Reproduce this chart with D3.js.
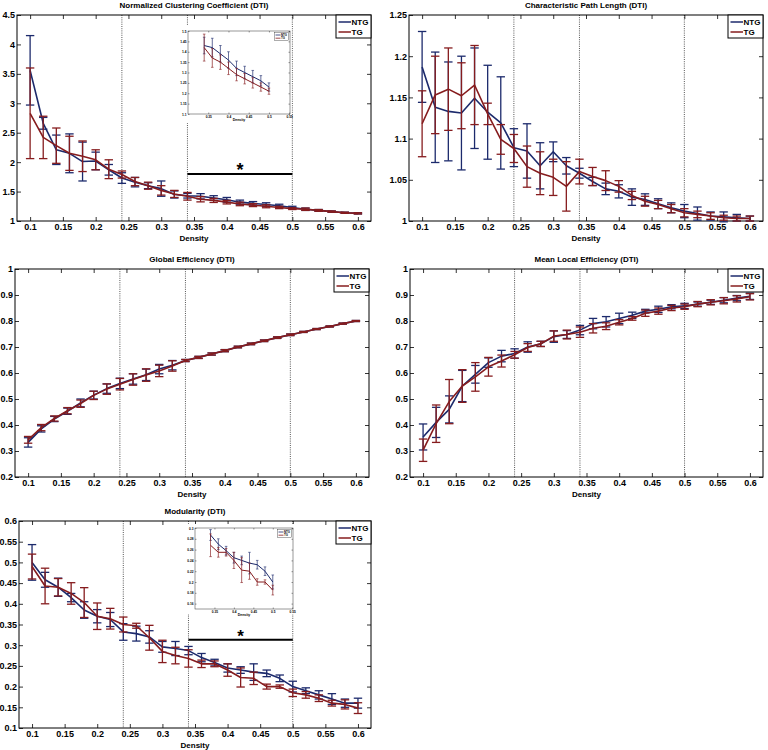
<!DOCTYPE html>
<html><head><meta charset="utf-8">
<script src="https://cdn.jsdelivr.net/npm/d3@7"></script>
<style>
body{margin:0;background:#fff}
svg{display:block}
text{font-family:"Liberation Sans",Arial,Helvetica,sans-serif;font-weight:bold;fill:#000}
</style>
</head><body>
<svg id="chart" width="768" height="750"></svg>
<script>
// ---------------- DATA ----------------
const density = [0.10,0.12,0.14,0.16,0.18,0.20,0.22,0.24,0.26,0.28,0.30,0.32,0.34,0.36,0.38,0.40,0.42,0.44,0.46,0.48,0.50,0.52,0.54,0.56,0.58,0.60];

const seriesNames = ["NTG","TG"];

// Normalized Clustering Coefficient
const nccNTG    = [3.56,2.66,2.21,2.15,2.01,2.02,1.87,1.73,1.66,1.60,1.55,1.45,1.43,1.42,1.39,1.36,1.32,1.30,1.28,1.26,1.23,1.20,1.18,1.16,1.14,1.13];
const nccNTGerr = [0.59,0.10,0.25,0.33,0.33,0.15,0.09,0.09,0.08,0.05,0.13,0.06,0.04,0.045,0.04,0.04,0.035,0.03,0.03,0.025,0.02,0.02,0.015,0.01,0.01,0.01];
const nccTG     = [2.83,2.42,2.28,2.15,2.10,2.04,1.88,1.79,1.67,1.60,1.52,1.46,1.42,1.37,1.35,1.32,1.29,1.27,1.25,1.23,1.21,1.20,1.18,1.16,1.14,1.13];
const nccTGerr  = [0.77,0.36,0.30,0.29,0.26,0.17,0.16,0.06,0.07,0.06,0.08,0.06,0.065,0.045,0.035,0.03,0.03,0.025,0.025,0.02,0.015,0.02,0.015,0.01,0.01,0.01];

// Characteristic Path Length
const cplNTG    = [1.187,1.138,1.133,1.131,1.149,1.132,1.119,1.089,1.085,1.067,1.084,1.067,1.058,1.048,1.039,1.036,1.029,1.026,1.021,1.016,1.012,1.009,1.006,1.005,1.004,1.003];
const cplNTGerr = [0.043,0.067,0.060,0.069,0.061,0.057,0.056,0.023,0.033,0.028,0.012,0.010,0.006,0.005,0.007,0.008,0.010,0.007,0.006,0.006,0.008,0.008,0.005,0.006,0.004,0.003];
const cplTG     = [1.118,1.153,1.160,1.152,1.165,1.130,1.099,1.088,1.066,1.058,1.053,1.042,1.060,1.054,1.049,1.042,1.031,1.024,1.020,1.015,1.010,1.008,1.006,1.004,1.003,1.003];
const cplTGerr  = [0.040,0.047,0.050,0.040,0.048,0.013,0.018,0.017,0.025,0.026,0.022,0.030,0.015,0.011,0.012,0.007,0.005,0.006,0.005,0.005,0.005,0.004,0.004,0.003,0.003,0.003];

// Global Efficiency
const geNTG     = [0.333,0.385,0.423,0.453,0.485,0.515,0.540,0.560,0.577,0.593,0.615,0.630,0.648,0.660,0.673,0.686,0.700,0.712,0.724,0.736,0.747,0.758,0.769,0.779,0.790,0.800];
const geNTGerr  = [0.018,0.012,0.010,0.012,0.015,0.015,0.018,0.020,0.020,0.022,0.018,0.018,0.004,0.004,0.004,0.004,0.003,0.003,0.003,0.003,0.003,0.002,0.002,0.002,0.002,0.002];
const geTG      = [0.343,0.390,0.425,0.455,0.482,0.514,0.538,0.557,0.575,0.592,0.608,0.627,0.648,0.660,0.673,0.686,0.700,0.712,0.724,0.736,0.747,0.758,0.769,0.779,0.790,0.800];
const geTGerr   = [0.013,0.012,0.010,0.012,0.014,0.016,0.020,0.022,0.022,0.024,0.022,0.020,0.004,0.004,0.004,0.004,0.003,0.003,0.003,0.003,0.003,0.002,0.002,0.002,0.002,0.002];

// Mean Local Efficiency
const mleNTG    = [0.354,0.410,0.460,0.550,0.595,0.640,0.665,0.675,0.700,0.712,0.740,0.748,0.765,0.790,0.797,0.810,0.822,0.838,0.845,0.855,0.858,0.865,0.872,0.880,0.888,0.895];
const mleNTGerr = [0.050,0.058,0.052,0.060,0.034,0.018,0.022,0.018,0.020,0.010,0.022,0.015,0.018,0.020,0.020,0.020,0.012,0.007,0.012,0.008,0.010,0.008,0.008,0.010,0.010,0.012];
const mleTG     = [0.303,0.405,0.490,0.550,0.585,0.624,0.646,0.670,0.698,0.712,0.742,0.748,0.757,0.772,0.780,0.795,0.810,0.830,0.838,0.850,0.855,0.865,0.872,0.878,0.885,0.893];
const mleTGerr  = [0.043,0.072,0.085,0.063,0.055,0.036,0.023,0.013,0.015,0.010,0.020,0.017,0.020,0.018,0.013,0.010,0.007,0.012,0.012,0.010,0.010,0.010,0.010,0.012,0.012,0.012];

// Modularity
const modNTG    = [0.500,0.458,0.440,0.415,0.385,0.370,0.362,0.332,0.328,0.320,0.296,0.292,0.287,0.270,0.258,0.245,0.240,0.235,0.232,0.220,0.200,0.190,0.180,0.170,0.160,0.160];
const modNTGerr = [0.043,0.018,0.022,0.010,0.020,0.016,0.017,0.020,0.018,0.015,0.013,0.017,0.010,0.010,0.008,0.010,0.008,0.020,0.008,0.008,0.013,0.007,0.010,0.013,0.010,0.012];
const modTG     = [0.490,0.443,0.440,0.425,0.403,0.370,0.364,0.350,0.347,0.318,0.285,0.275,0.268,0.255,0.255,0.240,0.222,0.220,0.200,0.200,0.185,0.180,0.172,0.160,0.157,0.148];
const modTGerr  = [0.030,0.043,0.021,0.026,0.036,0.032,0.025,0.018,0.006,0.030,0.027,0.020,0.021,0.009,0.007,0.015,0.023,0.015,0.006,0.004,0.009,0.008,0.008,0.007,0.011,0.013];

// Axes ticks
const xTickValues = [0.1,0.15,0.2,0.25,0.3,0.35,0.4,0.45,0.5,0.55,0.6];
const xTickLabels = ["0.1","0.15","0.2","0.25","0.3","0.35","0.4","0.45","0.5","0.55","0.6"];
const nccYTicks = [1,1.5,2,2.5,3,3.5,4,4.5];
const nccYLabels = ["1","1.5","2","2.5","3","3.5","4","4.5"];
const cplYTicks = [1,1.05,1.1,1.15,1.2,1.25];
const cplYLabels = ["1","1.05","1.1","1.15","1.2","1.25"];
const effYTicks = [0.2,0.3,0.4,0.5,0.6,0.7,0.8,0.9,1];
const effYLabels = ["0.2","0.3","0.4","0.5","0.6","0.7","0.8","0.9","1"];
const modYTicks = [0.1,0.15,0.2,0.25,0.3,0.35,0.4,0.45,0.5,0.55,0.6];
const modYLabels = ["0.1","0.15","0.2","0.25","0.3","0.35","0.4","0.45","0.5","0.55","0.6"];

// inset ticks
const insetXTicks = [0.35,0.4,0.45,0.5,0.55];
const insetXLabels = ["0.35","0.4","0.45","0.5","0.55"];
const nccInsetYTicks = [1.1,1.15,1.2,1.25,1.3,1.35,1.4,1.45,1.5];
const nccInsetYLabels = ["1.1","1.15","1.2","1.25","1.3","1.35","1.4","1.45","1.5"];
const modInsetYTicks = [0.16,0.18,0.2,0.22,0.24,0.26,0.28,0.3];
const modInsetYLabels = ["0.16","0.18","0.2","0.22","0.24","0.26","0.28","0.3"];

const refDensities = [0.24,0.34,0.5];
const sigRange = [0.34,0.5];
const nccSigLevel = 1.8;
const modSigLevel = 0.313;

const titles = ["Normalized Clustering Coefficient (DTI)","Characteristic Path Length (DTI)","Global Efficiency (DTI)","Mean Local Efficiency (DTI)","Modularity (DTI)"];
const xLabel = "Density";

// ---------------- STYLE ----------------
const colors = ["#1c2a6c","#861c1e"];
const svg = d3.select("#chart");
svg.append("rect").attr("width",768).attr("height",750).attr("fill","#fff");

function drawPanel(p){
  const g = svg.append("g");
  const x = d3.scaleLinear().domain([0.08,0.62]).range([p.left,p.right]);
  const y = d3.scaleLinear().domain(p.yDomain).range([p.bottom,p.top]);

  // reference dotted lines
  g.selectAll(".ref").data(refDensities).enter().append("line")
    .attr("x1",d=>x(d)).attr("x2",d=>x(d)).attr("y1",p.top).attr("y2",p.bottom)
    .attr("stroke","#555").attr("stroke-width",1).attr("stroke-dasharray","1,1.2");

  // axes (ticks inward on all sides)
  const ax = g.append("g").attr("transform",`translate(0,${p.bottom})`)
    .call(d3.axisBottom(x).tickValues(xTickValues).tickFormat((d,i)=>xTickLabels[i]).tickSizeInner(-4).tickSizeOuter(0).tickPadding(3));
  const axT = g.append("g").attr("transform",`translate(0,${p.top})`)
    .call(d3.axisTop(x).tickValues(xTickValues).tickFormat("").tickSizeInner(-4).tickSizeOuter(0));
  const ay = g.append("g").attr("transform",`translate(${p.left},0)`)
    .call(d3.axisLeft(y).tickValues(p.yTicks).tickFormat((d,i)=>p.yLabels[i]).tickSizeInner(-4).tickSizeOuter(0).tickPadding(2));
  const ayR = g.append("g").attr("transform",`translate(${p.right},0)`)
    .call(d3.axisRight(y).tickValues(p.yTicks).tickFormat("").tickSizeInner(-4).tickSizeOuter(0));
  [ax,axT,ay,ayR].forEach(a=>{
    a.select(".domain").remove();
    a.selectAll("line").attr("stroke","#000").attr("stroke-width",0.8);
    a.selectAll("text").attr("font-size",9).attr("font-weight","bold")
      .attr("font-family",'"Liberation Sans",Arial,sans-serif').attr("fill","#000");
  });
  g.append("rect").attr("x",p.left).attr("y",p.top).attr("width",p.right-p.left).attr("height",p.bottom-p.top)
    .attr("fill","none").attr("stroke","#000").attr("stroke-width",1);

  // title & x label
  g.append("text").attr("x",(p.left+p.right)/2).attr("y",p.top-7).attr("text-anchor","middle").attr("font-size",8).text(p.title);
  g.append("text").attr("x",(p.left+p.right)/2).attr("y",p.bottom+19.5).attr("text-anchor","middle").attr("font-size",8).text(xLabel);

  // series
  const series = [{m:p.ntg,e:p.ntgErr},{m:p.tg,e:p.tgErr}];
  series.forEach((s,k)=>{
    const sg = g.append("g");
    const pts = density.map((d,i)=>({x:d,m:s.m[i],e:s.e[i]}));
    sg.selectAll(".eb").data(pts).enter().append("line")
      .attr("x1",d=>x(d.x)).attr("x2",d=>x(d.x)).attr("y1",d=>y(d.m-d.e)).attr("y2",d=>y(d.m+d.e))
      .attr("stroke",colors[k]).attr("stroke-width",1.3);
    [-1,1].forEach(sgn=>{
      sg.selectAll(".cap"+sgn).data(pts).enter().append("line")
        .attr("x1",d=>x(d.x)-4.2).attr("x2",d=>x(d.x)+4.2)
        .attr("y1",d=>y(d.m+sgn*d.e)).attr("y2",d=>y(d.m+sgn*d.e))
        .attr("stroke",colors[k]).attr("stroke-width",1.3);
    });
    sg.append("path").datum(pts).attr("fill","none").attr("stroke",colors[k]).attr("stroke-width",1.6)
      .attr("stroke-linejoin","round")
      .attr("d",d3.line().x(d=>x(d.x)).y(d=>y(d.m)));
  });

  // significance bar
  if (p.sig !== undefined){
    g.append("line").attr("x1",x(sigRange[0])).attr("x2",x(sigRange[1])).attr("y1",y(p.sig)).attr("y2",y(p.sig))
      .attr("stroke","#000").attr("stroke-width",2);
    g.append("text").attr("x",x((sigRange[0]+sigRange[1])/2)).attr("y",y(p.sig)+p.starDy).attr("text-anchor","middle")
      .attr("font-size",p.starSize).text("*");
  }

  // legend
  const lw=35, lh=23, lx=p.right-lw, ly=p.top;
  const lg = g.append("g");
  lg.append("rect").attr("x",lx).attr("y",ly).attr("width",lw).attr("height",lh).attr("fill","#fff").attr("stroke","#000").attr("stroke-width",1);
  seriesNames.forEach((n,i)=>{
    const ry = ly+7+i*10;
    lg.append("line").attr("x1",lx+2.5).attr("x2",lx+15).attr("y1",ry).attr("y2",ry).attr("stroke",colors[i]).attr("stroke-width",1.5);
    lg.append("text").attr("x",lx+15.5).attr("y",ry+3).attr("font-size",8).text(n);
  });

  if (p.inset) drawInset(p.inset, p);
}

function drawInset(c, p){
  const g = svg.append("g");
  g.append("rect").attr("x",c.bg[0]).attr("y",c.bg[1]).attr("width",c.bg[2]-c.bg[0]).attr("height",c.bg[3]-c.bg[1]).attr("fill","#fff");
  const x = d3.scaleLinear().domain([0.3,0.552]).range([c.left,c.right]);
  const y = d3.scaleLinear().domain(c.yDomain).range([c.bottom,c.top]);
  const clipId = "clip"+Math.round(c.top);
  g.append("clipPath").attr("id",clipId).append("rect").attr("x",c.left).attr("y",c.top).attr("width",c.right-c.left).attr("height",c.bottom-c.top);

  const ax = g.append("g").attr("transform",`translate(0,${c.bottom})`)
    .call(d3.axisBottom(x).tickValues(insetXTicks).tickFormat((d,i)=>insetXLabels[i]).tickSizeInner(-1.5).tickSizeOuter(0).tickPadding(1.5));
  const axT = g.append("g").attr("transform",`translate(0,${c.top})`)
    .call(d3.axisTop(x).tickValues(insetXTicks).tickFormat("").tickSizeInner(-1.5).tickSizeOuter(0));
  const ay = g.append("g").attr("transform",`translate(${c.left},0)`)
    .call(d3.axisLeft(y).tickValues(c.yTicks).tickFormat((d,i)=>c.yLabels[i]).tickSizeInner(-1.5).tickSizeOuter(0).tickPadding(1.5));
  const ayR = g.append("g").attr("transform",`translate(${c.right},0)`)
    .call(d3.axisRight(y).tickValues(c.yTicks).tickFormat("").tickSizeInner(-1.5).tickSizeOuter(0));
  [ax,axT,ay,ayR].forEach(a=>{
    a.select(".domain").remove();
    a.selectAll("line").attr("stroke","#000").attr("stroke-width",0.4);
    a.selectAll("text").attr("font-size",3.2).attr("font-weight","bold")
      .attr("font-family",'"Liberation Sans",Arial,sans-serif').attr("fill","#333");
  });
  g.append("rect").attr("x",c.left).attr("y",c.top).attr("width",c.right-c.left).attr("height",c.bottom-c.top)
    .attr("fill","none").attr("stroke","#333").attr("stroke-width",0.5);
  g.append("text").attr("x",(c.left+c.right)/2).attr("y",c.bottom+7).attr("text-anchor","middle").attr("font-size",3.5).attr("fill","#333").text(xLabel);

  const dg = g.append("g").attr("clip-path",`url(#${clipId})`);
  const series = [{m:p.ntg,e:p.ntgErr},{m:p.tg,e:p.tgErr}];
  series.forEach((s,k)=>{
    const pts = density.map((d,i)=>({x:d,m:s.m[i],e:s.e[i]})).filter(d=>d.x>=0.339 && d.x<=0.501);
    dg.selectAll(".ieb"+k).data(pts).enter().append("line")
      .attr("x1",d=>x(d.x)).attr("x2",d=>x(d.x)).attr("y1",d=>y(d.m-d.e)).attr("y2",d=>y(d.m+d.e))
      .attr("stroke",colors[k]).attr("stroke-width",0.8).attr("opacity",0.85);
    [-1,1].forEach(sgn=>{
      dg.selectAll(".icap"+k+sgn).data(pts).enter().append("line")
        .attr("x1",d=>x(d.x)-1.3).attr("x2",d=>x(d.x)+1.3)
        .attr("y1",d=>y(d.m+sgn*d.e)).attr("y2",d=>y(d.m+sgn*d.e))
        .attr("stroke",colors[k]).attr("stroke-width",0.6);
    });
    dg.append("path").datum(pts).attr("fill","none").attr("stroke",colors[k]).attr("stroke-width",1)
      .attr("d",d3.line().x(d=>x(d.x)).y(d=>y(d.m)));
  });

  // inset legend
  const lw=14, lh=8, lx=c.right-lw-1.5, ly=c.top+1.5;
  g.append("rect").attr("x",lx).attr("y",ly).attr("width",lw).attr("height",lh).attr("fill","#fff").attr("stroke","#333").attr("stroke-width",0.4);
  seriesNames.forEach((n,i)=>{
    const ry = ly+2.5+i*3.2;
    g.append("line").attr("x1",lx+1).attr("x2",lx+6).attr("y1",ry).attr("y2",ry).attr("stroke",colors[i]).attr("stroke-width",0.8);
    g.append("text").attr("x",lx+6.5).attr("y",ry+1).attr("font-size",2.8).attr("fill","#333").text(n);
  });
}

drawPanel({left:17,right:371,top:15,bottom:221,yDomain:[1,4.5],yTicks:nccYTicks,yLabels:nccYLabels,title:titles[0],
  ntg:nccNTG,ntgErr:nccNTGerr,tg:nccTG,tgErr:nccTGerr,sig:nccSigLevel,starDy:2.5,starSize:18,
  inset:{bg:[178,26,291.5,123],left:188,right:290,top:31,bottom:114,yDomain:[1.1,1.5],yTicks:nccInsetYTicks,yLabels:nccInsetYLabels}});
drawPanel({left:409,right:763,top:15,bottom:221,yDomain:[1,1.25],yTicks:cplYTicks,yLabels:cplYLabels,title:titles[1],
  ntg:cplNTG,ntgErr:cplNTGerr,tg:cplTG,tgErr:cplTGerr});
drawPanel({left:15,right:369,top:269,bottom:477,yDomain:[0.2,1],yTicks:effYTicks,yLabels:effYLabels,title:titles[2],
  ntg:geNTG,ntgErr:geNTGerr,tg:geTG,tgErr:geTGerr});
drawPanel({left:410,right:763,top:269,bottom:477,yDomain:[0.2,1],yTicks:effYTicks,yLabels:effYLabels,title:titles[3],
  ntg:mleNTG,ntgErr:mleNTGerr,tg:mleTG,tgErr:mleTGerr});
drawPanel({left:19,right:371,top:521,bottom:728,yDomain:[0.1,0.6],yTicks:modYTicks,yLabels:modYLabels,title:titles[4],
  ntg:modNTG,ntgErr:modNTGerr,tg:modTG,tgErr:modTGerr,sig:modSigLevel,starDy:2.5,starSize:17,
  inset:{bg:[182,524,296,614],left:195,right:293,top:528,bottom:609,yDomain:[0.15,0.3],yTicks:modInsetYTicks,yLabels:modInsetYLabels}});
</script>
</body></html>
